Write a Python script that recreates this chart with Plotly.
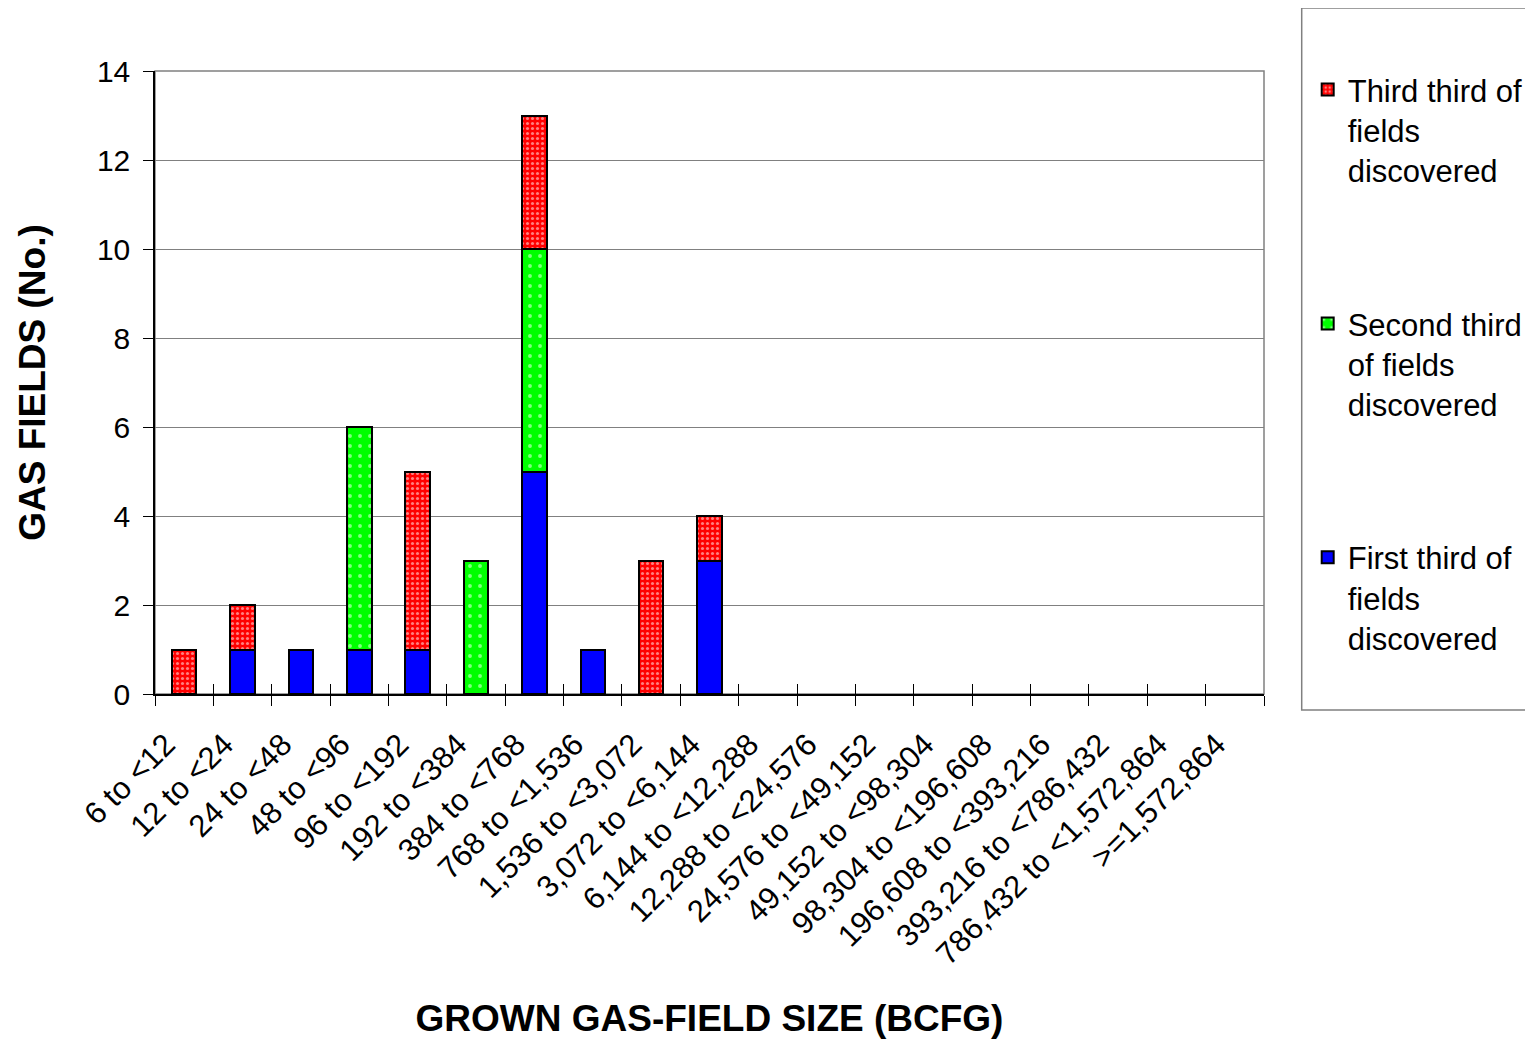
import plotly.graph_objects as go

sizes = ["6 to <12", "12 to <24", "24 to <48", "48 to <96", "96 to <192", "192 to <384",
         "384 to <768", "768 to <1,536", "1,536 to <3,072", "3,072 to <6,144",
         "6,144 to <12,288", "12,288 to <24,576", "24,576 to <49,152", "49,152 to <98,304",
         "98,304 to <196,608", "196,608 to <393,216", "393,216 to <786,432",
         "786,432 to <1,572,864", ">=1,572,864"]
first_third = [0, 1, 1, 1, 1, 0, 5, 1, 0, 3, 0, 0, 0, 0, 0, 0, 0, 0, 0]
second_third = [0, 0, 0, 5, 0, 3, 5, 0, 0, 0, 0, 0, 0, 0, 0, 0, 0, 0, 0]
third_third = [1, 1, 0, 0, 4, 0, 3, 0, 3, 1, 0, 0, 0, 0, 0, 0, 0, 0, 0]

font = "Arial, Liberation Sans, sans-serif"

def nz(vals):
    # zero-height bars would leave a black outline on the axis
    return [v if v else None for v in vals]

fig = go.Figure()
fig.add_bar(x=sizes, y=nz(first_third), name="First third of<br>fields<br>discovered",
            legendgroup="a", legendrank=3,
            marker=dict(color="#0000ff", line=dict(color="black", width=2)))
fig.add_bar(x=sizes, y=nz(second_third), name="Second third<br>of fields<br>discovered",
            legendgroup="b", legendrank=2,
            marker=dict(color="#00ff00", line=dict(color="black", width=2),
                        pattern=dict(shape=".", fgcolor="white", bgcolor="#00ff00",
                                     size=10, solidity=0.12)))
fig.add_bar(x=sizes, y=nz(third_third), name="Third third of<br>fields<br>discovered",
            legendgroup="c", legendrank=1,
            marker=dict(color="#ff0000", line=dict(color="black", width=2),
                        pattern=dict(shape=".", fgcolor="white", bgcolor="#ff0000",
                                     size=5, solidity=0.3)))
# empty trace so a second x axis can draw tick marks above the baseline
fig.add_scatter(x=sizes, y=[None] * len(sizes), xaxis="x2", showlegend=False,
                hoverinfo="skip")

n = len(sizes)
fig.update_layout(
    barmode="stack", bargap=0.58,
    width=1525, height=1031,
    margin=dict(l=147, r=269, t=63, b=345, autoexpand=False),
    plot_bgcolor="white", paper_bgcolor="white",
    font=dict(family=font, color="black", size=31),
    legend=dict(x=1.0394, y=1.013, xanchor="left", yanchor="top",
                traceorder="grouped", tracegroupgap=110, valign="top",
                font=dict(size=31), borderwidth=0, itemwidth=30,
                bgcolor="rgba(0,0,0,0)", maxheight=1000),
    shapes=[dict(type="rect", xref="paper", yref="paper", x0=1.034, x1=1.26,
                 y0=-0.0257, y1=1.101, line=dict(color="#808080", width=1.5))],
    xaxis=dict(
        type="category", range=[-0.5, n - 0.5], automargin=False,
        tickangle=-45, tickfont=dict(size=31), ticks="outside", tickson="boundaries",
        tickvals=sizes, ticktext=[s + "\u00a0\u00a0\u00a0" for s in sizes],
        ticklen=10, tickcolor="black", showline=True, linecolor="black", linewidth=1.5,
        title=dict(text="<b>GROWN GAS-FIELD SIZE (BCFG)</b>", font=dict(size=37), standoff=35),
    ),
    xaxis2=dict(overlaying="x", anchor="y", side="bottom", type="category",
                categoryarray=sizes, range=[-0.5, n - 0.5], automargin=False,
                ticks="inside", tickson="boundaries", ticklen=10, tickcolor="black",
                showticklabels=False, showgrid=False, showline=False, zeroline=False),
    yaxis=dict(
        range=[0, 14], dtick=2, tickfont=dict(size=30), ticks="outside", ticklen=10,
        tickcolor="black", showline=True, linecolor="black", linewidth=1.5,
        showgrid=True, gridcolor="#808080", gridwidth=1, zeroline=False,
        ticklabelstandoff=7, automargin=False,
        title=dict(text="<b>GAS FIELDS (No.)</b>", font=dict(size=37), standoff=40),
    ),
)
# grey frame on top and right of plot area
fig.add_shape(type="rect", xref="paper", yref="paper", x0=0, x1=1, y0=0, y1=1,
              line=dict(color="#808080", width=1.5), layer="below")

fig.write_html("out.html")
